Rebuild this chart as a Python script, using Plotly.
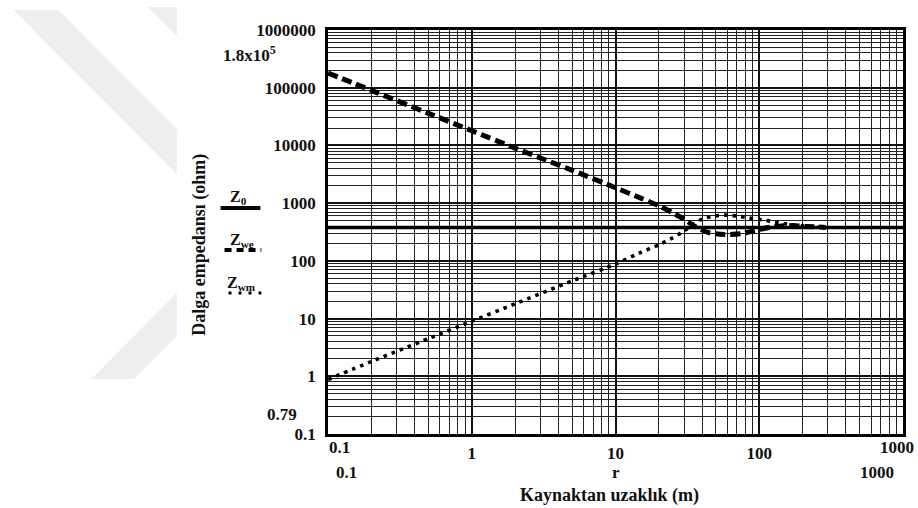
import plotly.graph_objects as go

# ---------------- data ----------------
r_we = [0.1, 0.2, 0.5, 1, 2, 5, 10, 15, 20, 25, 30, 36, 45, 58, 75, 93, 120, 160, 210, 290]
z_we = [180000, 90000, 36000, 18000, 9000, 3700, 1850, 1220, 900, 680, 530, 390, 305, 285, 295, 335, 385, 410, 395, 380]

r_wm = [0.1, 0.2, 0.5, 1, 2, 5, 10, 15, 20, 25, 30, 35, 40, 48, 58, 71, 85, 110, 160, 220, 290]
z_wm = [0.88, 1.8, 4.5, 9, 18, 45, 88, 140, 190, 250, 330, 440, 530, 595, 620, 595, 555, 505, 430, 395, 380]

r_z0 = [0.1, 1000]
z_z0 = [377, 377]

y_tick_vals = [0.1, 1, 10, 100, 1000, 10000, 100000, 1000000]
y_tick_text = ["0.1", "1", "10", "100", "1000", "10000", "100000", "1000000"]
x_tick_vals = [1, 10, 100]
x_tick_text = ["1", "10", "100"]

# ---------------- layout geometry ----------------
W, H = 918, 508
L, R, T, B = 328, 12, 30, 74
PW, PH = W - L - R, H - T - B


def px(x):
    return (x - L) / PW


def py(y):
    return (H - B - y) / PH


FONT = "Liberation Serif"
INK = "#111111"

minor_x = [k * 10 ** d for d in range(-1, 3) for k in range(2, 10)]
minor_y = [k * 10 ** d for d in range(-1, 6) for k in range(2, 10)]

fig = go.Figure()
fig.add_trace(go.Scatter(x=r_z0, y=z_z0, mode="lines",
                         line=dict(color="black", width=3.5), hoverinfo="skip"))
fig.add_trace(go.Scatter(x=r_we, y=z_we, mode="lines",
                         line=dict(color="black", width=5, dash="10px,5px", shape="spline", smoothing=0.6)))
fig.add_trace(go.Scatter(x=r_wm, y=z_wm, mode="lines",
                         line=dict(color="black", width=3.6, dash="3.6px,5px", shape="spline", smoothing=0.6)))

fig.update_layout(
    width=W, height=H, margin=dict(l=L, r=R, t=T, b=B),
    paper_bgcolor="white", plot_bgcolor="white", showlegend=False,
    font=dict(family=FONT, size=17, color=INK, weight="bold"),
    xaxis=dict(type="log", range=[-1, 3], tickvals=x_tick_vals, ticktext=x_tick_text,
               showgrid=True, gridcolor="#111", gridwidth=2.2,
               minor=dict(tickvals=minor_x, showgrid=True, gridcolor="#222", gridwidth=1.4, ticks=""),
               showline=True, linecolor="black", linewidth=2.5, mirror=True,
               ticks="", ticklabelstandoff=2,
               tickfont=dict(family=FONT, size=17, color=INK, weight="bold"),
               zeroline=False),
    yaxis=dict(type="log", range=[-1, 6], tickvals=y_tick_vals, ticktext=y_tick_text,
               showgrid=True, gridcolor="#111", gridwidth=2.2,
               minor=dict(tickvals=minor_y, showgrid=True, gridcolor="#222", gridwidth=1.1, ticks=""),
               showline=True, linecolor="black", linewidth=2.5, mirror=True,
               ticks="", ticklabelstandoff=6,
               tickfont=dict(family=FONT, size=17, color=INK, weight="bold"),
               zeroline=False),
)

# ---------------- watermark (faint chevron) ----------------
wm = "#eeeeee"
def poly(pts):
    return "M " + " L ".join(f"{px(a):.4f},{py(b):.4f}" for a, b in pts) + " Z"

shapes = [
    dict(type="path", xref="paper", yref="paper", layer="below", line=dict(width=0), fillcolor=wm,
         path=poly([(12, 10), (57, 10), (176, 129), (176, 174)])),
    dict(type="path", xref="paper", yref="paper", layer="below", line=dict(width=0), fillcolor=wm,
         path=poly([(147, 7), (176, 7), (176, 36)])),
    dict(type="path", xref="paper", yref="paper", layer="below", line=dict(width=0), fillcolor=wm,
         path=poly([(176, 293), (176, 336), (133, 379), (90, 379)])),
]

# ---------------- legend keys ----------------
shapes += [
    dict(type="line", xref="paper", yref="paper", x0=px(220), x1=px(260), y0=py(208), y1=py(208),
         line=dict(color="black", width=4)),
    dict(type="line", xref="paper", yref="paper", x0=px(224), x1=px(261), y0=py(250), y1=py(250),
         line=dict(color="black", width=4, dash="7px,5px")),
    dict(type="line", xref="paper", yref="paper", x0=px(228), x1=px(261), y0=py(293), y1=py(293),
         line=dict(color="black", width=3, dash="3px,7px")),
]
fig.update_layout(shapes=shapes)


def note(text, x, y, size=17, angle=0, xanchor="center"):
    fig.add_annotation(text=text, x=px(x), y=py(y), xref="paper", yref="paper",
                       showarrow=False, xanchor=xanchor, yanchor="middle", textangle=angle,
                       font=dict(family=FONT, size=size, color=INK, weight="bold"))


note("1.8x10<sup>5</sup>", 249, 54)
note("0.79", 282, 414)
note("0.1", 340, 447)
note("1000", 900, 447)
note("0.1", 347, 472)
note("r", 617, 472)
note("1000", 880, 472)
note("Kaynaktan uzaklık (m)", 611, 496, size=18)
note("Dalga empedansı (ohm)", 198, 245, size=18, angle=-90)
note("Z<sub>0</sub>", 238, 197, size=16)
note("Z<sub>we</sub>", 242, 240, size=16)
note("Z<sub>wm</sub>", 241, 283, size=16)

fig.write_html("out.html")
